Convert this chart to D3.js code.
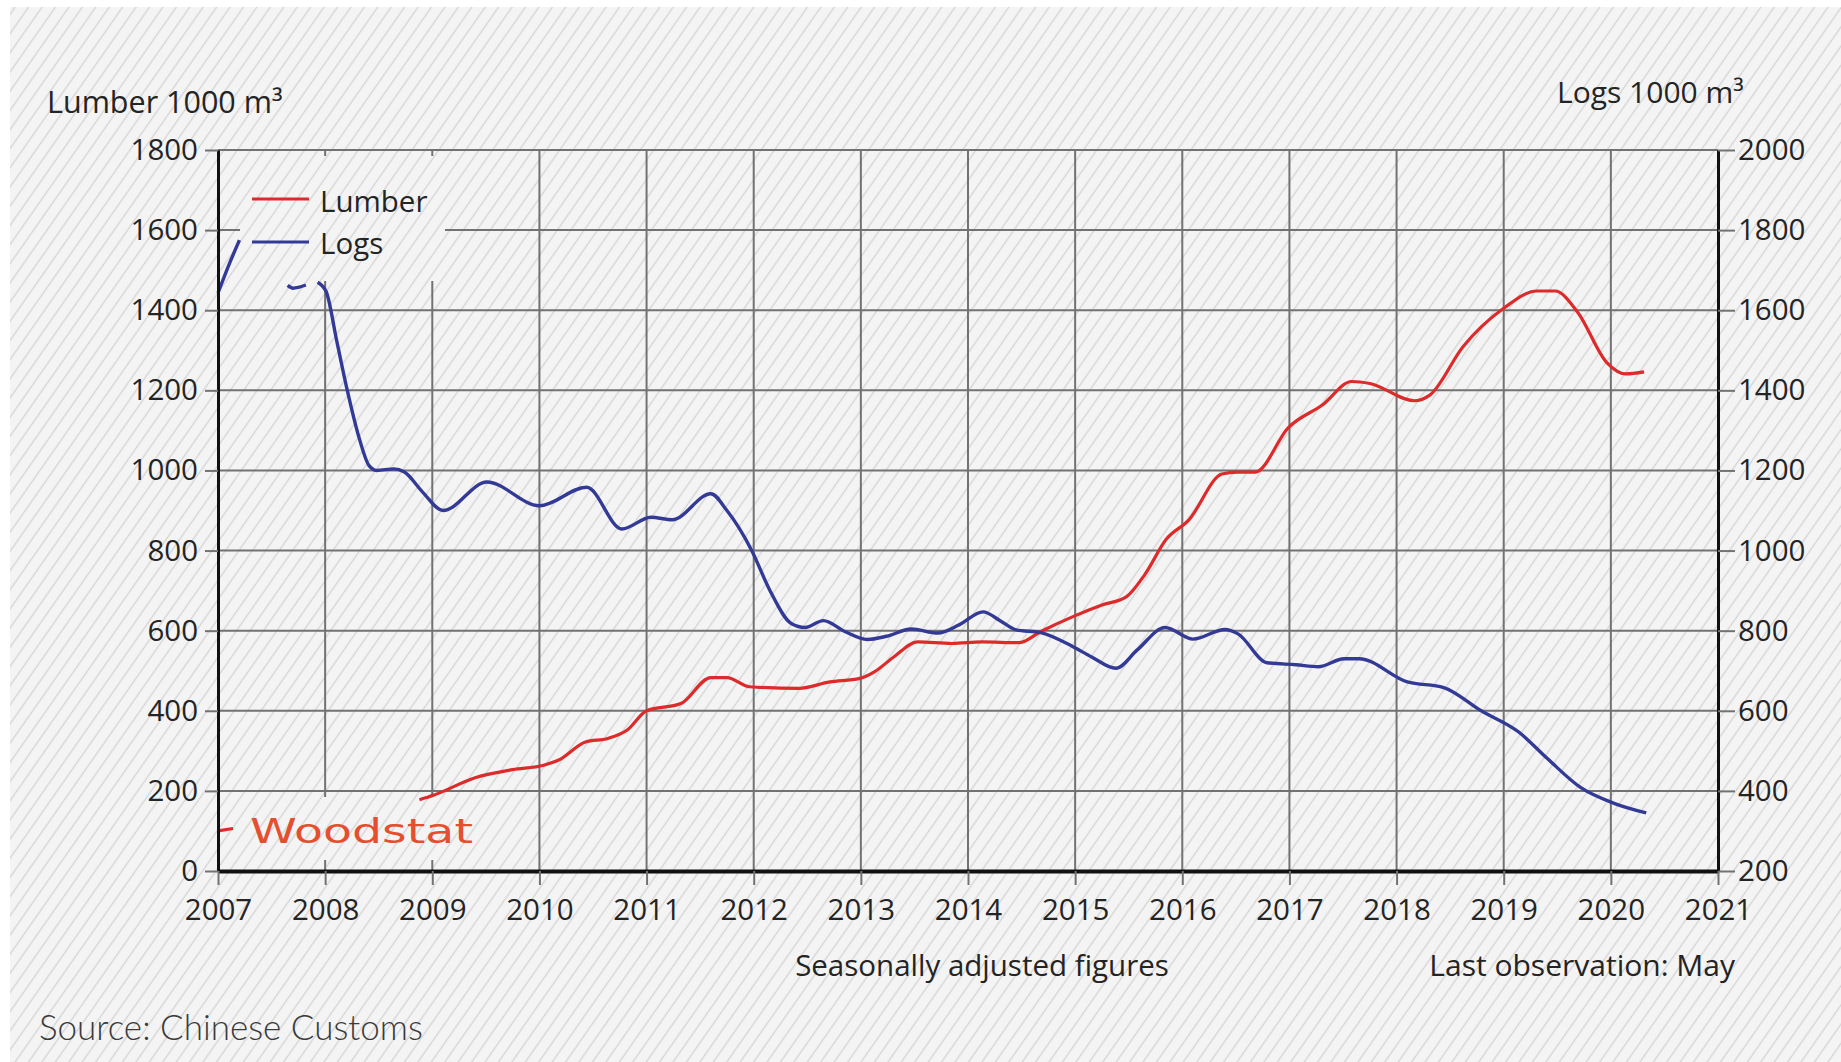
<!DOCTYPE html>
<html>
<head>
<meta charset="utf-8">
<script src="https://cdn.jsdelivr.net/npm/d3@7"></script>
<style>
body { margin: 0; background: #fff; }
svg text { font-family: "Open Sans", sans-serif; fill: #242424; }
</style>
</head>
<body>
<svg id="chart" width="1841" height="1062"></svg>
<script>
// values
var years = d3.range(2007, 2022);
var lumberTicks = d3.range(0, 1801, 200);
var logsTicks = d3.range(200, 2001, 200);

// [year, 1000 m3]; null = part of the curve hidden in the original
var lumber = [
	[2007.00, 100], [2007.14, 106], [2007.15, null],
	[2008.88, 178], [2009.01, 189], [2009.40, 233], [2009.75, 253], [2010.04, 264],
	[2010.18, 277], [2010.43, 322], [2010.64, 331], [2010.82, 352], [2011.00, 400],
	[2011.32, 418], [2011.60, 483], [2011.75, 483], [2011.96, 460], [2012.42, 456],
	[2012.71, 472], [2012.99, 481], [2013.13, 498], [2013.31, 535], [2013.53, 572],
	[2013.85, 568], [2014.13, 572], [2014.48, 570], [2014.68, 598], [2014.98, 635],
	[2015.25, 664], [2015.48, 685], [2015.65, 740], [2015.85, 828], [2016.06, 876],
	[2016.37, 991], [2016.51, 996], [2016.68, 996], [2016.99, 1107], [2017.31, 1164],
	[2017.58, 1222], [2017.75, 1217], [2018.17, 1174], [2018.31, 1188], [2018.62, 1309],
	[2019.00, 1405], [2019.31, 1448], [2019.48, 1448], [2019.69, 1395], [2019.96, 1270],
	[2020.14, 1241], [2020.31, 1246]
];

var logs = [
	[2007.00, 1643], [2007.10, 1712], [2007.20, 1775], [2007.21, null],
	[2007.65, 1662], [2007.70, 1655], [2007.75, 1657], [2007.82, 1663], [2007.85, null],
	[2007.93, 1670], [2008.01, 1646], [2008.11, 1521], [2008.21, 1396], [2008.31, 1288],
	[2008.41, 1212], [2008.48, 1200], [2008.64, 1204], [2008.74, 1196], [2008.91, 1146],
	[2009.10, 1100], [2009.51, 1171], [2010.00, 1112], [2010.44, 1158], [2010.77, 1054],
	[2011.04, 1083], [2011.24, 1077], [2011.60, 1142], [2011.75, 1100], [2011.98, 1001],
	[2012.15, 901], [2012.35, 818], [2012.48, 808], [2012.65, 825], [2012.85, 798],
	[2013.06, 778], [2013.24, 786], [2013.47, 804], [2013.72, 794], [2013.92, 815],
	[2014.14, 847], [2014.30, 825], [2014.45, 802], [2014.68, 795], [2014.98, 760],
	[2015.15, 735], [2015.38, 706], [2015.58, 752], [2015.84, 808], [2016.10, 779],
	[2016.40, 803], [2016.52, 792], [2016.79, 720], [2017.06, 715], [2017.27, 710],
	[2017.51, 730], [2017.65, 730], [2018.10, 672], [2018.44, 658], [2018.79, 600],
	[2019.14, 547], [2019.41, 480], [2019.72, 408], [2020.03, 369], [2020.33, 345]
];

var lumberColor = "#dd2a2a";
var logsColor = "#333a96";

function drawChart()
{
	var svg = d3.select("#chart");
	var defs = svg.append("defs");

	// hatched paper background
	var hatch = defs.append("pattern")
		.attr("id", "hatch")
		.attr("patternUnits", "userSpaceOnUse")
		.attr("width", 11)
		.attr("height", 11)
		.attr("patternTransform", "rotate(35)");
	hatch.append("rect").attr("width", 11).attr("height", 11).attr("fill", "#f4f4f4");
	hatch.append("line")
		.attr("x1", 5.5).attr("y1", 0).attr("x2", 5.5).attr("y2", 11)
		.attr("stroke", "#d3d3d3").attr("stroke-width", 1.3);

	svg.append("rect")
		.attr("x", 10).attr("y", 7)
		.attr("width", 1831).attr("height", 1055)
		.attr("fill", "url(#hatch)");

	var plotLeft = 218, plotRight = 1718, plotTop = 150, plotBottom = 871;

	var x = d3.scaleLinear().domain([2007, 2021]).range([plotLeft, plotRight]);
	var yL = d3.scaleLinear().domain([0, 1800]).range([plotBottom, plotTop]);
	var yR = d3.scaleLinear().domain([200, 2000]).range([plotBottom, plotTop]);

	// grid
	var grid = svg.append("g").attr("stroke", "#727272").attr("stroke-width", 2);
	grid.selectAll(".h")
		.data(lumberTicks.slice(1))
		.enter()
		.append("line")
		.attr("x1", plotLeft).attr("x2", plotRight)
		.attr("y1", function(d) { return yL(d); })
		.attr("y2", function(d) { return yL(d); });
	grid.selectAll(".v")
		.data(years.slice(1, -1))
		.enter()
		.append("line")
		.attr("y1", plotTop).attr("y2", plotBottom)
		.attr("x1", function(d) { return x(d); })
		.attr("x2", function(d) { return x(d); });

	// legend and logo boxes cover the grid
	svg.append("rect").attr("x", 240).attr("y", 156).attr("width", 205).attr("height", 125).attr("fill", "url(#hatch)");
	svg.append("rect").attr("x", 236).attr("y", 797).attr("width", 244).attr("height", 63).attr("fill", "url(#hatch)");

	// series
	var lineL = d3.line()
		.defined(function(d) { return d[1] !== null; })
		.x(function(d) { return x(d[0]); })
		.y(function(d) { return yL(d[1]); })
		.curve(d3.curveMonotoneX);
	var lineR = d3.line()
		.defined(function(d) { return d[1] !== null; })
		.x(function(d) { return x(d[0]); })
		.y(function(d) { return yR(d[1]); })
		.curve(d3.curveMonotoneX);

	svg.append("path").datum(lumber)
		.attr("d", lineL)
		.attr("fill", "none").attr("stroke", lumberColor).attr("stroke-width", 3.2);
	svg.append("path").datum(logs)
		.attr("d", lineR)
		.attr("fill", "none").attr("stroke", logsColor).attr("stroke-width", 3.4);

	// axes
	var yAxisL = d3.axisLeft(yL).tickValues(lumberTicks).tickFormat(d3.format("d"))
		.tickSize(13).tickSizeOuter(0).tickPadding(7);
	var yAxisR = d3.axisRight(yR).tickValues(logsTicks).tickFormat(d3.format("d"))
		.tickSize(17).tickSizeOuter(0).tickPadding(3);
	var xAxis = d3.axisBottom(x).tickValues(years).tickFormat(d3.format("d"))
		.tickSize(14).tickSizeOuter(0).tickPadding(14);

	function styleAxis(g, w)
	{
		g.select(".domain").attr("stroke", "#111").attr("stroke-width", w);
		g.selectAll(".tick line").attr("stroke", "#727272").attr("stroke-width", 2);
		g.selectAll(".tick text").attr("font-size", 29.5).attr("font-family", null).attr("fill", "#242424");
	}

	svg.append("g").attr("transform", "translate(" + plotLeft + ",0)").call(yAxisL).call(styleAxis, 3);
	svg.append("g").attr("transform", "translate(" + plotRight + ",0)").call(yAxisR).call(styleAxis, 3);
	svg.append("g").attr("transform", "translate(0," + plotBottom + ")").call(xAxis).call(styleAxis, 4);

	// titles
	svg.append("text").attr("x", 47).attr("y", 113).attr("font-size", 30.5).text("Lumber 1000 m³");
	svg.append("text").attr("x", 1557).attr("y", 103).attr("font-size", 30).text("Logs 1000 m³");

	// legend
	var legend = svg.append("g");
	legend.append("line").attr("x1", 252).attr("x2", 309).attr("y1", 199).attr("y2", 199)
		.attr("stroke", lumberColor).attr("stroke-width", 3);
	legend.append("text").attr("x", 320).attr("y", 212).attr("font-size", 29.5).text("Lumber");
	legend.append("line").attr("x1", 252).attr("x2", 309).attr("y1", 242).attr("y2", 242)
		.attr("stroke", logsColor).attr("stroke-width", 3);
	legend.append("text").attr("x", 320).attr("y", 254).attr("font-size", 29.5).text("Logs");

	// logo
	svg.append("text").attr("x", 250).attr("y", 843)
		.attr("font-size", 33).style("font-family", "DejaVu Sans")
		.attr("textLength", 223).attr("lengthAdjust", "spacingAndGlyphs")
		.style("fill", "#e4502f").text("Woodstat");

	// notes
	svg.append("text").attr("x", 982).attr("y", 976).attr("text-anchor", "middle").attr("font-size", 29.5).text("Seasonally adjusted figures");
	svg.append("text").attr("x", 1735).attr("y", 976).attr("text-anchor", "end").attr("font-size", 30).text("Last observation: May");
	svg.append("text").attr("x", 39).attr("y", 1040).attr("font-size", 35)
		.style("font-family", "Lato, sans-serif").attr("font-weight", 300).style("fill", "#3a3a3a")
		.text("Source: Chinese Customs");
}

drawChart();
</script>
</body>
</html>
